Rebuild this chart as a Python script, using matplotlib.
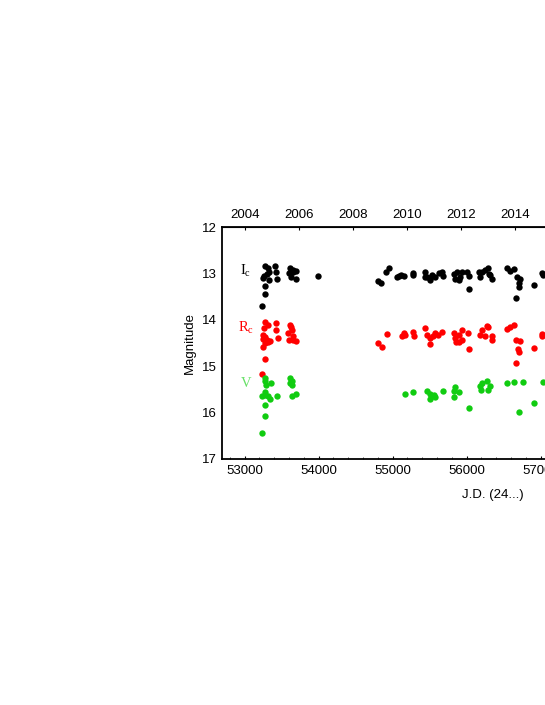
import matplotlib
matplotlib.use("Agg")
import matplotlib.pyplot as plt
from matplotlib.ticker import MultipleLocator

# J.D. - 2400000 and magnitudes
jd_ic = [53280, 53320, 53410, 53420, 53330, 53250, 53330, 53300, 53435, 53270,
         53280, 53240, 53260, 53620, 53660, 53600, 53630, 53695, 53660, 53700,
         53996, 54800, 54843, 54914, 54946, 55059, 55090, 55113, 55158, 55275,
         55275, 55441, 55441, 55464, 55500, 55509, 55532, 55576, 55621, 55667,
         55680, 55824, 55846, 55869, 55891, 55914, 55937, 56004, 56026, 56026,
         56175, 56161, 56207, 56252, 56288, 56297, 56342, 56320, 56545, 56581,
         56644, 56680, 56725, 56702, 56702, 56667, 56904, 57018, 57030]
mag_ic = [12.85, 12.88, 12.84, 12.96, 12.97, 13.10, 13.14, 13.02, 13.12, 13.27,
          13.44, 13.70, 13.05, 12.88, 12.93, 12.99, 13.07, 13.13, 12.98, 12.95,
          13.06, 13.16, 13.21, 12.96, 12.89, 13.07, 13.05, 13.03, 13.06, 12.99,
          13.04, 12.96, 13.08, 13.07, 13.14, 13.10, 13.03, 13.08, 13.00, 12.98,
          13.06, 13.01, 13.11, 12.98, 13.14, 13.07, 12.97, 12.98, 13.06, 13.34,
          13.08, 12.98, 12.97, 12.93, 12.89, 13.01, 13.11, 13.04, 12.89, 12.95,
          12.91, 13.07, 13.13, 13.20, 13.30, 13.52, 13.25, 13.00, 13.03]

jd_rc = [53280, 53320, 53420, 53425, 53260, 53255, 53300, 53320, 53450, 53250,
         53280, 53240, 53250, 53270, 53340, 53275, 53620, 53640, 53590, 53660,
         53690, 53600, 53660, 53630, 54797, 54856, 54924, 55126, 55158, 55170,
         55275, 55290, 55441, 55464, 55509, 55509, 55540, 55576, 55610, 55667,
         55824, 55846, 55860, 55891, 55900, 55937, 55937, 56013, 56026, 56175,
         56207, 56275, 56290, 56252, 56342, 56342, 56545, 56581, 56644, 56671,
         56725, 56689, 56702, 56671, 56904, 57018, 57022]
mag_rc = [14.04, 14.11, 14.07, 14.22, 14.18, 14.33, 14.44, 14.48, 14.40, 14.58,
          14.85, 15.17, 14.42, 14.38, 14.46, 14.50, 14.11, 14.22, 14.29, 14.36,
          14.45, 14.44, 14.43, 14.16, 14.51, 14.58, 14.31, 14.36, 14.29, 14.33,
          14.26, 14.34, 14.18, 14.33, 14.40, 14.53, 14.36, 14.29, 14.33, 14.26,
          14.29, 14.40, 14.47, 14.33, 14.47, 14.22, 14.44, 14.29, 14.63, 14.33,
          14.22, 14.13, 14.16, 14.36, 14.36, 14.44, 14.20, 14.15, 14.11, 14.44,
          14.46, 14.63, 14.69, 14.94, 14.61, 14.31, 14.35]

jd_v = [53280, 53270, 53285, 53360, 53270, 53280, 53320, 53345, 53230, 53440,
        53270, 53280, 53240, 53620, 53640, 53640, 53615, 53640, 53690, 55162,
        55275, 55464, 55499, 55509, 55553, 55576, 55680, 55824, 55846, 55833,
        55891, 56026, 56175, 56193, 56207, 56275, 56284, 56320, 56545, 56644,
        56757, 56702, 56904, 57027]
mag_v = [15.26, 15.33, 15.41, 15.37, 15.55, 15.62, 15.65, 15.71, 15.64, 15.65,
         15.84, 16.07, 16.43, 15.26, 15.33, 15.41, 15.36, 15.64, 15.60, 15.61,
         15.55, 15.53, 15.60, 15.71, 15.63, 15.66, 15.53, 15.53, 15.44, 15.66,
         15.56, 15.91, 15.42, 15.51, 15.37, 15.32, 15.51, 15.42, 15.37, 15.35,
         15.35, 15.98, 15.80, 15.35]

years = [2004, 2006, 2008, 2010, 2012, 2014]

plt.rcParams["font.family"] = ["Liberation Sans", "DejaVu Sans"]
plt.rcParams["mathtext.fontset"] = "custom"
plt.rcParams["mathtext.rm"] = "Liberation Serif"
plt.rcParams["mathtext.it"] = "Liberation Serif"

fig = plt.figure(figsize=(5.45, 7.05), dpi=100)
# the plot runs off the right edge of the page, as in the original
ax = fig.add_axes([0.408, 0.349, 0.652, 0.329])

green = "#11cc11"
ax.scatter(jd_ic, mag_ic, s=21, color="black", linewidths=0)
ax.scatter(jd_rc, mag_rc, s=21, color="#ff0000", linewidths=0)
ax.scatter(jd_v, mag_v, s=21, color=green, linewidths=0)

ax.text(53020, 12.95, r"$\mathrm{I_c}$", color="black", fontsize=10.5,
        ha="center", va="center")
ax.text(53020, 14.18, r"$\mathrm{R_c}$", color="#ff0000", fontsize=10.5,
        ha="center", va="center")
ax.text(53020, 15.36, r"$\mathrm{V}$", color="#66e066", fontsize=10.5,
        ha="center", va="center")

ax.set_xlim(52700, 57500)
ax.set_ylim(17, 12)
ax.xaxis.set_major_locator(MultipleLocator(1000))
ax.xaxis.set_minor_locator(MultipleLocator(200))
ax.yaxis.set_major_locator(MultipleLocator(1))
ax.tick_params(which="both", direction="in", labelsize=9.5, pad=4)
ax.tick_params(which="major", length=2.5, width=0.8)
ax.tick_params(which="minor", length=1.2, width=0.5)
ax.tick_params(axis="y", length=0)
for side in ("top", "bottom", "left"):
    ax.spines[side].set_linewidth(1.3)
ax.spines["right"].set_visible(False)

ax.set_xlabel("J.D. (24...)", fontsize=9.5)
ax.set_ylabel("Magnitude", fontsize=9.5, labelpad=4)
ax.xaxis.set_label_coords(0.76, -0.13)


def jd_to_year(jd):
    return 2004 + (jd - 53005.5) / 365.25


def year_to_jd(yr):
    return 53005.5 + (yr - 2004) * 365.25


top = ax.secondary_xaxis("top", functions=(jd_to_year, year_to_jd))
top.set_xticks(years)
top.set_xticklabels([str(y) for y in years])
top.tick_params(direction="in", length=2.5, width=0.8, labelsize=9.5, pad=4)

fig.savefig("out.png", dpi=100)
